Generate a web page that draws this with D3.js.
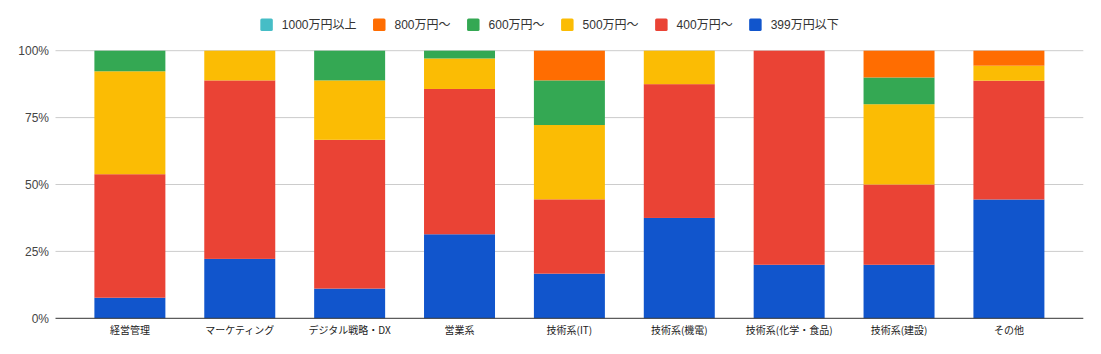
<!DOCTYPE html>
<html>
<head>
<meta charset="utf-8">
<script src="https://cdn.jsdelivr.net/npm/d3@7"></script>
<style>
  body { margin: 0; background: #fff; }
  svg { display: block; font-family: "Liberation Sans", Arial, "Noto Sans CJK JP", sans-serif; }
</style>
</head>
<body>
<svg id="chart"></svg>
<script>
(() => {

  // data (percent of each category)
  const categories = ['経営管理', 'マーケティング', 'デジタル戦略・DX', '営業系', '技術系(IT)', '技術系(機電)', '技術系(化学・食品)', '技術系(建設)', 'その他'];
  const seriesNames = ['1000万円以上', '800万円〜', '600万円〜', '500万円〜', '400万円〜', '399万円以下'];
  const seriesColors = ['#46bdc6', '#ff6d01', '#34a853', '#fbbc04', '#ea4335', '#1155cc'];

  const over1000 = [0, 0, 0, 0, 0, 0, 0, 0, 0];
  const from800  = [0, 0, 0, 0, 11.1, 0, 0, 10, 5.6];
  const from600  = [7.7, 0, 11.1, 2.9, 16.7, 0, 0, 10, 0];
  const from500  = [38.5, 11.1, 22.2, 11.4, 27.8, 12.5, 0, 30, 5.6];
  const from400  = [46.2, 66.7, 55.6, 54.3, 27.8, 50, 80, 30, 44.4];
  const under399 = [7.7, 22.2, 11.1, 31.4, 16.7, 37.5, 20, 20, 44.4];

  const yTicks = [0, 0.25, 0.5, 0.75, 1];

  const seriesValues = [over1000, from800, from600, from500, from400, under399];

  const width = 1101;
  const height = 354;
  const margin = { top: 50.7, right: 17.7, bottom: 35.7, left: 55.5 };

  const svg = d3.select('#chart')
    .attr('width', width)
    .attr('height', height);

  const table = categories.map((c, i) => {
    const row = { category: c };
    seriesNames.forEach((s, j) => { row[s] = seriesValues[j][i]; });
    return row;
  });

  // stack bottom-up: 399 first
  const stackKeys = seriesNames.slice().reverse();
  const stacked = d3.stack()
    .keys(stackKeys)
    .offset(d3.stackOffsetExpand)(table);

  const color = d3.scaleOrdinal().domain(seriesNames).range(seriesColors);

  const x = d3.scaleBand()
    .domain(categories)
    .range([margin.left, width - margin.right])
    .padding(0.354);

  const y = d3.scaleLinear()
    .domain([0, 1])
    .range([height - margin.bottom, margin.top]);

  // grid
  svg.append('g')
    .selectAll('line')
    .data(yTicks.filter(t => t > 0))
    .enter()
    .append('line')
    .attr('x1', margin.left)
    .attr('x2', width - margin.right)
    .attr('y1', d => y(d))
    .attr('y2', d => y(d))
    .attr('stroke', '#cccccc')
    .attr('stroke-width', 1);

  // bars
  svg.append('g')
    .selectAll('g')
    .data(stacked)
    .enter()
    .append('g')
    .attr('fill', d => color(d.key))
    .selectAll('rect')
    .data(d => d)
    .enter()
    .append('rect')
    .attr('x', d => x(d.data.category))
    .attr('width', x.bandwidth())
    .attr('y', d => y(d[1]))
    .attr('height', d => y(d[0]) - y(d[1]));

  // baseline
  svg.append('line')
    .attr('x1', margin.left)
    .attr('x2', width - margin.right)
    .attr('y1', y(0))
    .attr('y2', y(0))
    .attr('stroke', '#333333')
    .attr('stroke-width', 1);

  // y axis labels
  const yAxis = d3.axisLeft(y)
    .tickValues(yTicks)
    .tickFormat(d3.format('.0%'))
    .tickSize(0)
    .tickPadding(6.5);

  svg.append('g')
    .attr('transform', `translate(${margin.left},0)`)
    .call(yAxis)
    .call(g => g.select('.domain').remove())
    .call(g => g.selectAll('text')
      .attr('fill', '#444444')
      .style('font-size', '12px')
      .style('font-family', '"Liberation Sans", Arial, sans-serif'));

  // x axis labels
  const xAxis = d3.axisBottom(x)
    .tickSize(0)
    .tickPadding(8.5);

  svg.append('g')
    .attr('transform', `translate(0,${y(0)})`)
    .call(xAxis)
    .call(g => g.select('.domain').remove())
    .call(g => g.selectAll('text')
      .attr('fill', '#222222')
      .style('font-size', '10px')
      .style('font-family', '"Noto Sans CJK JP", sans-serif'));

  // legend
  const legend = svg.append('g');
  const items = legend.selectAll('g')
    .data(seriesNames)
    .enter()
    .append('g');

  items.append('rect')
    .attr('width', 12.5)
    .attr('height', 12.5)
    .attr('rx', 1.5)
    .attr('y', 18.5)
    .attr('fill', d => color(d));

  items.append('text')
    .attr('x', 21.5)
    .attr('y', 24.8)
    .attr('dy', '0.35em')
    .attr('fill', '#333333')
    .style('font-size', '12px')
    .text(d => d);

  let offset = 0;
  const positions = [];
  items.each(function() {
    const w = d3.select(this).select('text').node().getComputedTextLength();
    positions.push(offset);
    offset += 21.5 + w + 16.5;
  });
  const total = offset - 16.5;
  const start = 549.5 - total / 2;
  items.attr('transform', (d, i) => `translate(${start + positions[i]},0)`);

})();
</script>
</body>
</html>
